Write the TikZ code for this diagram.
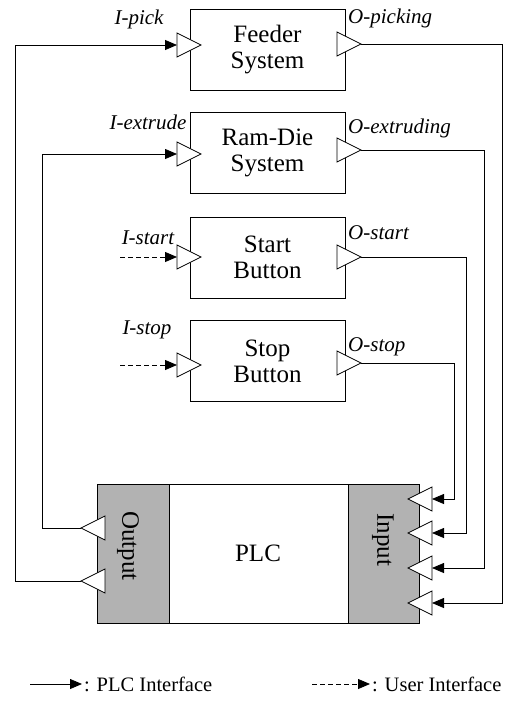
\documentclass[tikz,border=0pt]{standalone}
\usepackage{fontspec}
\setmainfont{Liberation Serif}
\usetikzlibrary{arrows.meta,positioning}

\begin{document}
\begin{tikzpicture}[x=1pt,y=-1pt,
  box/.style={draw,line width=0.8pt,minimum width=155pt,minimum height=81pt,inner sep=0pt,align=center,font=\fontsize{25}{26}\selectfont},
  shadebox/.style={draw,line width=0.8pt,fill=black!30,minimum width=72pt,minimum height=139pt,inner sep=0pt},
  tri/.style={draw,fill=white,line width=0.8pt,line join=miter},
  plcline/.style={line width=0.8pt,-{Triangle[length=12pt,width=10pt]}},
  userline/.style={plcline,dash pattern=on 5pt off 3pt},
  sig/.style={font=\itshape\fontsize{21}{24}\selectfont,inner sep=0pt},
  legend/.style={font=\fontsize{20.5}{24}\selectfont,inner sep=0pt,anchor=base west}]
\useasboundingbox (0,0) rectangle (513,701);

% the four subsystems
\foreach \n/\t/\y in {fs/{Feeder\\System}/50, rd/{Ram-Die\\System}/153, sb/{Start\\Button}/257.5, tb/{Stop\\Button}/361}
  \node[box] (\n) at (267.5,\y) {\t};

% PLC with output and input parts
\node[draw,line width=0.8pt,minimum width=322pt,minimum height=139pt,inner sep=0pt] (plc) at (258,553.5) {};
\node[shadebox,anchor=north west] (plcout) at (plc.north west) {};
\node[shadebox,anchor=north east,minimum width=71pt] (plcin) at (plc.north east) {};
\node[font=\fontsize{25}{26}\selectfont] (plctxt) at (258,553) {PLC};
\node[font=\fontsize{25}{26}\selectfont,rotate=-90] (outtxt) at (128,546) {Output};
\node[font=\fontsize{25}{26}\selectfont,rotate=-90] (intxt) at (383,540) {Input};

% ports: base point and tip of each triangle
\foreach \n/\x/\y/\d in {fs-in/177/45/1, rd-in/177/154/1, sb-in/177/257/1, tb-in/177/365/1,
    fs-out/337/44/1, rd-out/337/150/1, sb-out/337/257/1, tb-out/337/363/1,
    po1/105/528/-1, po2/105/581/-1,
    pi1/432/499/-1, pi2/432/533/-1, pi3/432/568/-1, pi4/432/603/-1}{
  \draw[tri] (\x,\y-12) -- (\x+24*\d,\y) -- (\x,\y+12) -- cycle;
  \coordinate (\n) at (\x,\y);
  \coordinate (\n-tip) at (\x+24*\d,\y);
}

% signal names
\node[sig] (ipick) at (139,19) {I-pick};
\node[sig,anchor=west] (opick) at (348,18) {O-picking};
\node[sig] (iextr) at (148,122) {I-extrude};
\node[sig,anchor=west] (oextr) at (348,128) {O-extruding};
\node[sig] (istart) at (148,238) {I-start};
\node[sig,anchor=west] (ostart) at (348,233) {O-start};
\node[sig] (istop) at (147,330) {I-stop};
\node[sig,anchor=west] (ostop) at (348,347) {O-stop};

% PLC interface
\draw[plcline] (fs-out-tip) -- ++(141,0) |- (pi4);
\draw[plcline] (rd-out-tip) -- ++(123,0) |- (pi3);
\draw[plcline] (sb-out-tip) -- ++(105,0) |- (pi2);
\draw[plcline] (tb-out-tip) -- ++(93,0) |- (pi1);
\draw[plcline] (po1-tip) -- ++(-39,0) |- (rd-in);
\draw[plcline] (po2-tip) -- ++(-66,0) |- (fs-in);

% user interface
\coordinate (ustart) at (120,257);
\coordinate (ustop) at (120,365);
\draw[userline] (ustart) -- (sb-in);
\draw[userline] (ustop) -- (tb-in);

% legend
\coordinate (lga) at (30,684);
\coordinate (lgb) at (82,684);
\coordinate (lgc) at (312,684);
\coordinate (lgd) at (370,684);
\draw[plcline] (lga) -- (lgb);
\draw[userline] (lgc) -- (lgd);
\node[legend] (lgplc) at (84,691) {: PLC Interface};
\node[legend] (lguser) at (372,691) {: User Interface};
\end{tikzpicture}
\end{document}
